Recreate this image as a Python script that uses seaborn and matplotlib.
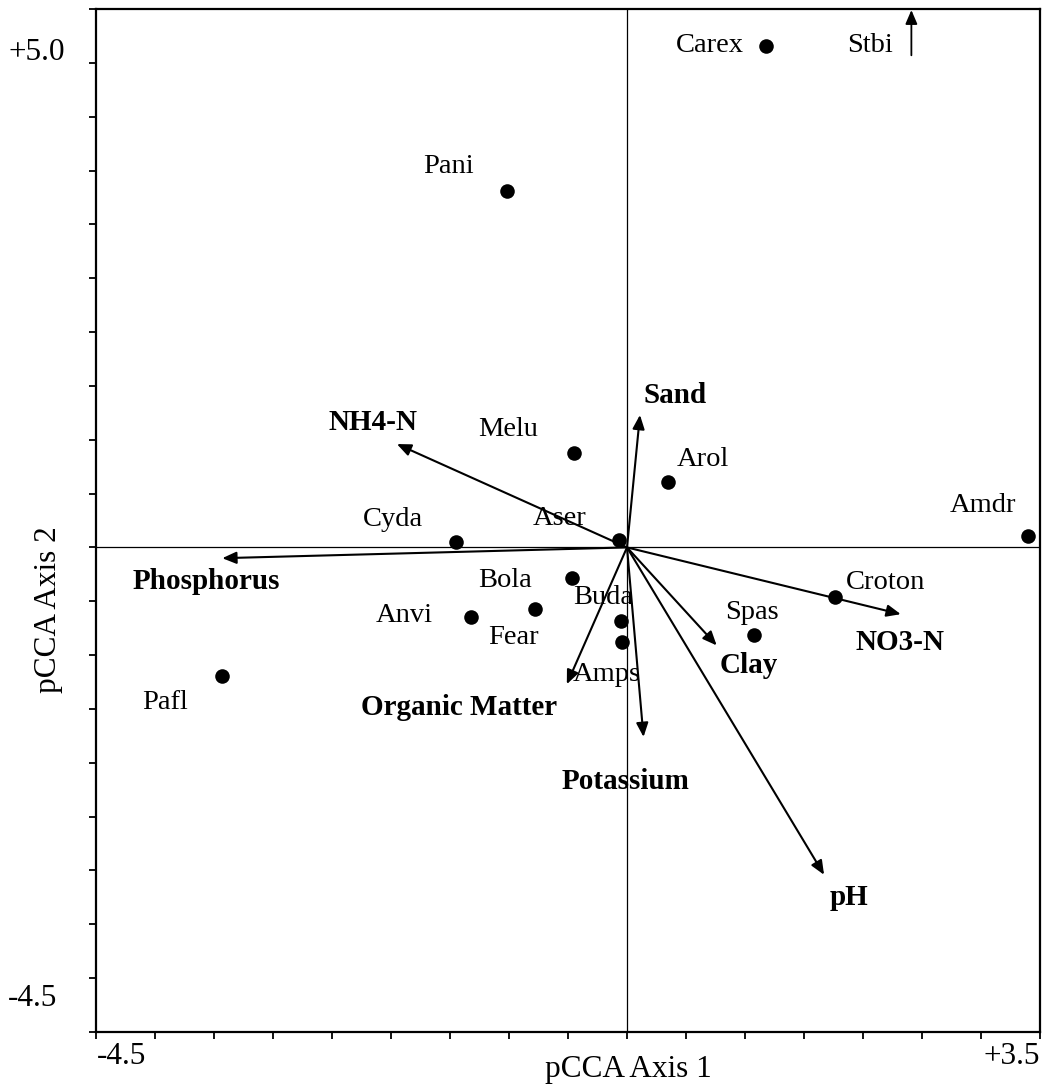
import numpy as np
import pandas as pd
import matplotlib
matplotlib.use("Agg")
import matplotlib.pyplot as plt
import seaborn as sns

# ---- data ----
species = ["Carex", "Pani", "Melu", "Arol", "Amdr", "Cyda", "Aser", "Bola",
           "Croton", "Fear", "Anvi", "Buda", "Spas", "Amps", "Pafl"]
species_x = [1.18, -1.02, -0.45, 0.35, 3.40, -1.45, -0.07, -0.47,
             1.76, -0.78, -1.32, -0.05, 1.08, -0.04, -3.43]
species_y = [4.66, 3.31, 0.88, 0.61, 0.11, 0.05, 0.07, -0.28,
             -0.46, -0.57, -0.65, -0.68, -0.81, -0.88, -1.19]

env_vars = ["NH4-N", "Sand", "Phosphorus", "Organic Matter", "Potassium",
            "Clay", "NO3-N", "pH"]
env_x = [-1.95, 0.11, -3.43, -0.51, 0.14, 0.76, 2.32, 1.67]
env_y = [0.96, 1.23, -0.10, -1.27, -1.76, -0.91, -0.62, -3.04]

offchart_name = "Stbi"
offchart_x = 2.41

x_range = (-4.5, 3.5)
y_range = (-4.5, 5.0)

# ---- label offsets (pixels, right/up) ----
sp_off = {"Carex": (-56, 0), "Pani": (-58, 24), "Melu": (-66, 23), "Arol": (35, 22),
          "Amdr": (-45, 30), "Cyda": (-63, 23), "Aser": (-59, 21), "Bola": (-67, -3),
          "Croton": (51, 14), "Fear": (-22, -29), "Anvi": (-67, 2), "Buda": (-18, 23),
          "Spas": (-3, 22), "Amps": (-16, -32), "Pafl": (-57, -27)}
env_off = {"NH4-N": (-24, 22), "Sand": (35, 19), "Phosphorus": (-16, -23),
           "Organic Matter": (-108, -23), "Potassium": (-18, -45), "Clay": (32, -20),
           "NO3-N": (-1, -28), "pH": (25, -23)}

sns.set_style("white")
plt.rcParams["font.family"] = ["Liberation Serif", "DejaVu Serif"]
plt.rcParams["text.color"] = "black"
plt.rcParams["axes.labelcolor"] = "black"

W, H = 1042, 1085
fig = plt.figure(figsize=(W / 100, H / 100), dpi=100)
ax = fig.add_axes([96 / W, 1 - 1032 / H, (1040 - 96) / W, (1032 - 9) / H])

px2pt = 0.72

df = pd.DataFrame({"name": species, "x": species_x, "y": species_y})

ax.axhline(0, color="black", lw=0.9, zorder=1)
ax.axvline(0, color="black", lw=0.9, zorder=1)

sns.scatterplot(data=df, x="x", y="y", ax=ax, color="black", s=110,
                edgecolor="black", linewidth=0, zorder=3, clip_on=False)

for n, x, y in zip(species, species_x, species_y):
    dx, dy = sp_off[n]
    ax.annotate(n, (x, y), xytext=(dx * px2pt, dy * px2pt), textcoords="offset points",
                ha="center", va="center", fontsize=20.5, color="black", zorder=4)

arrow_style = "-|>,head_length=0.42,head_width=0.18"
for n, x, y in zip(env_vars, env_x, env_y):
    ax.annotate("", xy=(x, y), xytext=(0, 0),
                arrowprops=dict(arrowstyle=arrow_style, mutation_scale=20, lw=1.5,
                                color="black", shrinkA=0, shrinkB=0), zorder=2)
    dx, dy = env_off[n]
    ax.annotate(n, (x, y), xytext=(dx * px2pt, dy * px2pt), textcoords="offset points",
                ha="center", va="center", fontsize=21, fontweight="bold",
                color="black", zorder=4)

# off-chart species arrow
ax.annotate("", xy=(offchart_x, y_range[1] - 0.01), xytext=(offchart_x, 4.57),
            arrowprops=dict(arrowstyle=arrow_style, mutation_scale=20, lw=1.3,
                            color="black", shrinkA=0, shrinkB=0), zorder=2,
            annotation_clip=False)
ax.annotate(offchart_name, (offchart_x, 4.66), xytext=(-41 * px2pt, 0),
            textcoords="offset points", ha="center", va="center", fontsize=20.5,
            color="black")

ax.set_xlim(*x_range)
ax.set_ylim(*y_range)
ax.set_xticks(np.arange(x_range[0], x_range[1] + 0.01, 0.5))
ax.set_yticks(np.arange(y_range[0], y_range[1] + 0.01, 0.5))
ax.set_xticklabels([])
ax.set_yticklabels([])
ax.tick_params(axis="both", which="both", direction="out", length=5, width=1.3,
               color="black", bottom=True, left=True, top=False, right=False)
for sp in ax.spines.values():
    sp.set_visible(True)
    sp.set_color("black")
    sp.set_linewidth(1.6)
ax.set_xlabel("")
ax.set_ylabel("")

# axis end labels and titles
def ftext(px, py, s, **kw):
    fig.text(px / W, 1 - py / H, s, ha="center", va="center", fontsize=22.5,
             color="black", **kw)

ftext(37, 52, "+5.0")
ftext(33, 998, "-4.5")
ftext(122, 1057, "-4.5")
ftext(1012, 1057, "+3.5")
ftext(628, 1070, "pCCA Axis 1")
ftext(49, 610, "pCCA Axis 2", rotation=90)

fig.savefig("out.png", dpi=100)
